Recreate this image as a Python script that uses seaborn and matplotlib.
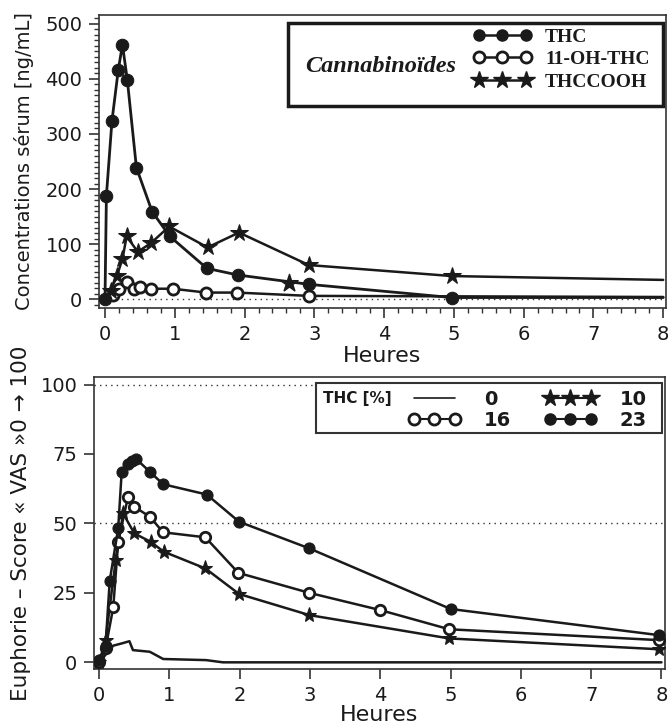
import matplotlib
matplotlib.use("Agg")
import matplotlib.pyplot as plt
import seaborn as sns
import pandas as pd
from matplotlib.lines import Line2D
from matplotlib.patches import Rectangle
from matplotlib.ticker import MultipleLocator

# ---------------- data: top panel (serum concentrations, ng/mL) ----------------
thc_t = [0, 0.02, 0.10, 0.19, 0.25, 0.32, 0.45, 0.675, 0.93, 1.46, 1.90, 2.92, 4.97, 8.0]
thc_c = [0, 188, 324, 416, 462, 398, 239, 159, 114, 56, 44, 27, 3, 3]
oh_t = [0.11, 0.205, 0.31, 0.41, 0.50, 0.66, 0.97, 1.45, 1.89, 2.92, 8.0]
oh_c = [7, 19, 31, 19, 22, 19, 19, 12, 12, 6, 4]
cooh_t = [0.08, 0.17, 0.25, 0.31, 0.47, 0.66, 0.92, 1.47, 1.92, 2.92, 4.97, 8.0]
cooh_c = [15, 42, 73, 114, 86, 102, 132, 94, 121, 62, 42, 35]
cooh_extra_t = [2.63]
cooh_extra_c = [30]
top_labels = ["THC", "11-OH-THC", "THCCOOH"]

# ---------------- data: bottom panel (euphoria VAS score) ----------------
t0 = [0, 0.2, 0.32, 0.43, 0.48, 0.72, 0.91, 1.52, 1.76, 8.0]
v0 = [0, 6, 6.8, 7.6, 4.4, 3.8, 1.2, 0.8, 0, 0]
t10 = [0, 0.09, 0.235, 0.34, 0.5, 0.73, 0.92, 1.51, 1.99, 2.99, 4.98, 7.97]
v10 = [0, 8, 36.8, 53.6, 46.4, 43.4, 39.8, 33.8, 24.6, 17, 8.6, 4.7]
t16 = [0, 0.09, 0.2, 0.27, 0.41, 0.5, 0.72, 0.91, 1.51, 1.98, 2.99, 4.0, 4.98, 7.96]
v16 = [0, 5, 19.8, 43.4, 59.6, 56, 52.4, 46.8, 45, 32.2, 25, 18.8, 11.9, 8]
t23 = [0, 0.09, 0.15, 0.27, 0.32, 0.41, 0.47, 0.53, 0.72, 0.91, 1.53, 1.99, 2.99, 5.0, 7.96]
v23 = [0.8, 5.9, 29.4, 48.2, 68.6, 71.3, 72.5, 73.1, 68.6, 64.1, 60.4, 50.6, 41.0, 19.2, 9.8]
dose_labels = ["0", "16", "10", "23"]

x_ticks = [0, 1, 2, 3, 4, 5, 6, 7, 8]
top_yticks = [0, 100, 200, 300, 400, 500]
bot_yticks = [0, 25, 50, 75, 100]

sns.set_theme(style="ticks")
plt.rcParams["font.family"] = ["DejaVu Sans"]
INK = "#1a1a1a"
AX = "#333333"

W, H = 670, 727
fig = plt.figure(figsize=(W / 100, H / 100), dpi=100)

def fx(px):
    return px / W

def fy(py):
    return 1 - py / H

ax1 = fig.add_axes([fx(99), fy(308), fx(666) - fx(99), fy(15) - fy(308)])
ax2 = fig.add_axes([fx(94), fy(669), fx(665) - fx(94), fy(377) - fy(669)])

# ---------------- top panel ----------------
common = dict(estimator=None, sort=False, color=INK, legend=False)
sns.lineplot(x=oh_t, y=oh_c, ax=ax1, lw=1.8, marker="o", markersize=8,
             markerfacecolor="white", markeredgecolor=INK, markeredgewidth=2.0,
             markevery=list(range(len(oh_t) - 1)), zorder=3, **common)
sns.lineplot(x=cooh_t, y=cooh_c, ax=ax1, lw=1.8, marker="*", markersize=13,
             markerfacecolor=INK, markeredgecolor=INK,
             markevery=list(range(len(cooh_t) - 1)), zorder=4, **common)
sns.scatterplot(x=cooh_extra_t, y=cooh_extra_c, ax=ax1, marker="*", s=170,
                color=INK, edgecolor=INK, zorder=4, legend=False)
sns.lineplot(x=thc_t, y=thc_c, ax=ax1, lw=2.0, marker="o", markersize=9,
             markerfacecolor=INK, markeredgecolor=INK,
             markevery=list(range(len(thc_t) - 1)), zorder=5, **common)
ax1.axhline(0, color=AX, lw=1.0, ls=(0, (1, 3)), zorder=1)

ax1.set_xlim(-0.086, 8.04)
ax1.set_ylim(-16, 516)
ax1.set_xticks(x_ticks)
ax1.set_yticks(top_yticks)
ax1.xaxis.set_minor_locator(MultipleLocator(0.2))
ax1.yaxis.set_minor_locator(MultipleLocator(10))
ax1.set_xlabel("Heures", fontsize=16, color=INK, labelpad=2)
ax1.set_ylabel("Concentrations sérum [ng/mL]", fontsize=14, color=INK, labelpad=8)

# ---------------- bottom panel ----------------
sns.lineplot(x=t0, y=v0, ax=ax2, lw=1.8, zorder=2, **common)
sns.lineplot(x=t10, y=v10, ax=ax2, lw=1.8, marker="*", markersize=11,
             markerfacecolor=INK, markeredgecolor=INK, zorder=3, **common)
sns.lineplot(x=t16, y=v16, ax=ax2, lw=1.8, marker="o", markersize=7.5,
             markerfacecolor="white", markeredgecolor=INK, markeredgewidth=2.0,
             zorder=4, **common)
sns.lineplot(x=t23, y=v23, ax=ax2, lw=1.8, marker="o", markersize=8,
             markerfacecolor=INK, markeredgecolor=INK, zorder=5, **common)
for yv in (50, 100):
    ax2.axhline(yv, color=AX, lw=1.0, ls=(0, (1, 3)), zorder=1)

ax2.set_xlim(-0.074, 8.05)
ax2.set_ylim(-2.4, 102.7)
ax2.set_xticks(x_ticks)
ax2.set_yticks(bot_yticks)
ax2.set_xlabel("Heures", fontsize=16, color=INK, labelpad=0)
ax2.set_ylabel("Euphorie – Score « VAS »0 → 100", fontsize=15.5, color=INK, labelpad=7)

for ax in (ax1, ax2):
    for s in ax.spines.values():
        s.set_visible(True)
        s.set_color(AX)
        s.set_linewidth(1.2)
    ax.tick_params(which="major", length=7, width=1.2, color=AX,
                   labelsize=14, labelcolor=INK, pad=5)
    ax.tick_params(which="minor", length=3.5, width=1.0, color=AX)
    ax.grid(False)

# ---------------- top legend ----------------
fig.patches.append(Rectangle((fx(288), fy(106)), fx(663) - fx(288), fy(23) - fy(106),
                             transform=fig.transFigure, fill=True, facecolor="white",
                             edgecolor=INK, lw=2.5, zorder=10))
fig.text(fx(381), fy(66), "Cannabinoïdes", fontsize=17.5, fontstyle="italic",
         fontweight="bold", family="Liberation Serif", color=INK,
         ha="center", va="center", zorder=11)
h_top = [
    Line2D([], [], color=INK, lw=1.8, marker="o", markersize=8,
           markerfacecolor=INK, markeredgecolor=INK),
    Line2D([], [], color=INK, lw=1.8, marker="o", markersize=8,
           markerfacecolor="white", markeredgecolor=INK, markeredgewidth=2),
    Line2D([], [], color=INK, lw=1.8, marker="*", markersize=13,
           markerfacecolor=INK, markeredgecolor=INK),
]
leg1 = fig.legend(h_top, top_labels, loc="upper left",
                  bbox_to_anchor=(fx(473), fy(28)), bbox_transform=fig.transFigure,
                  frameon=False, numpoints=3, handlelength=3.0, handletextpad=0.7,
                  labelspacing=0.25, borderpad=0, borderaxespad=0,
                  prop={"family": "Liberation Serif", "weight": "bold", "size": 14})
leg1.set_zorder(12)
for t in leg1.get_texts():
    t.set_color(INK)

# ---------------- bottom legend ----------------
fig.patches.append(Rectangle((fx(316), fy(433)), fx(662) - fx(316), fy(383) - fy(433),
                             transform=fig.transFigure, fill=True, facecolor="white",
                             edgecolor=AX, lw=1.5, zorder=10))
fig.text(fx(323), fy(399), "THC [%]", fontsize=11, fontweight="bold", color=INK,
         ha="left", va="center", zorder=11)
h_bot = [
    Line2D([], [], color=INK, lw=1.2),
    Line2D([], [], color=INK, lw=1.5, marker="o", markersize=8,
           markerfacecolor="white", markeredgecolor=INK, markeredgewidth=2),
    Line2D([], [], color=INK, lw=1.5, marker="*", markersize=13,
           markerfacecolor=INK, markeredgecolor=INK),
    Line2D([], [], color=INK, lw=1.5, marker="o", markersize=8,
           markerfacecolor=INK, markeredgecolor=INK),
]
leg2 = fig.legend(h_bot, dose_labels, loc="upper left", ncol=2,
                  bbox_to_anchor=(fx(408), fy(390)), bbox_transform=fig.transFigure,
                  frameon=False, numpoints=3, handlelength=2.7, handletextpad=1.2,
                  columnspacing=1.7, labelspacing=0.1, borderpad=0, borderaxespad=0,
                  prop={"weight": "bold", "size": 14})
leg2.set_zorder(12)
for t in leg2.get_texts():
    t.set_color(INK)

fig.savefig("out.png", dpi=100)
